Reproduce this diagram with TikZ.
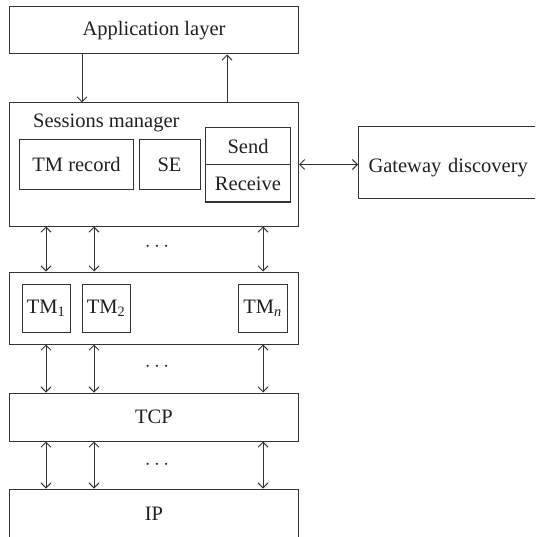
\documentclass[tikz,border=0pt]{standalone}
\usepackage{fontspec}
\setmainfont{Liberation Serif}
\usetikzlibrary{arrows.meta}
\tikzset{
  x=1pt, y=-1pt,
  every node/.style={font=\fontsize{20.5}{24}\selectfont, text=black!88},
  box/.style={draw=black!80, line width=1pt, inner sep=0pt},
  link/.style={draw=black!80, line width=1pt,
    arrows={Straight Barb[length=5pt,width=10pt]-Straight Barb[length=5pt,width=10pt]}},
  down/.style={draw=black!80, line width=1pt, -{Straight Barb[length=5pt,width=10pt]}},
}
\begin{document}
\begin{tikzpicture}
\useasboundingbox (0,0) rectangle (535,537);
\clip (0,0) rectangle (535,537);

% application layer
\node[box, minimum width=289, minimum height=47] (app) at (154,30.5) {Application layer};

% sessions manager with its parts
\node[box, minimum width=289, minimum height=123] (sess) at (154,164.5) {};
\node[anchor=base west, inner sep=0pt] (sesslabel) at (33,128) {Sessions manager};
\node[box, minimum width=114, minimum height=49.5] (tmrec) at (76.5,164.75) {TM record};
\node[box, minimum width=61, minimum height=49.5] (se) at (169.5,164.75) {SE};
\node[box, minimum width=85, minimum height=37] (send) at (248,146.5) {Send};
\node[box, minimum width=85, minimum height=37] (recv) at (248,183.5) {Receive};

% gateway discovery (label sits a little below the middle)
\node[box, anchor=west, minimum height=72, text width=170, inner xsep=10pt, align=left,
      text height=20pt, text depth=0pt]
  (gw) at (358,163) {Gateway discovery};

% transmission managers
\node[box, minimum width=289, minimum height=72] (tms) at (154,308) {};
\node[box, minimum width=48, minimum height=48] (tm1) at (46,308) {TM\textsubscript{1}};
\node[box, minimum width=48, minimum height=48] (tm2) at (106,308) {TM\textsubscript{2}};
\node[box, minimum width=49, minimum height=48] (tmn) at (262.5,308) {TM\textsubscript{\itshape n}};

% transport and network layers
\node[box, minimum width=289, minimum height=48] (tcp) at (154,417) {TCP};
\node[box, minimum width=289, minimum height=50] (ip) at (154,514) {IP\hspace{14pt}};

% application <-> sessions
\draw[down] (app.south -| 82,0) -- (sess.north -| 82,0);
\draw[down] (sess.north -| 227,0) -- (app.south -| 227,0);

% sessions <-> gateway discovery
\draw[link] (sess.east |- recv.north) -- (gw.west |- recv.north);

% vertical links between layers
\foreach \x in {46,94,263} {
  \draw[link] (sess.south -| \x,0) -- (tms.north -| \x,0);
  \draw[link] (tms.south -| \x,0) -- (tcp.north -| \x,0);
  \draw[link] (tcp.south -| \x,0) -- (ip.north -| \x,0);
}

% ellipses between the link groups
\node (dots1) at (157,247) {$\cdots$};
\node (dots2) at (157,367) {$\cdots$};
\node (dots3) at (157,465) {$\cdots$};
\end{tikzpicture}
\end{document}
